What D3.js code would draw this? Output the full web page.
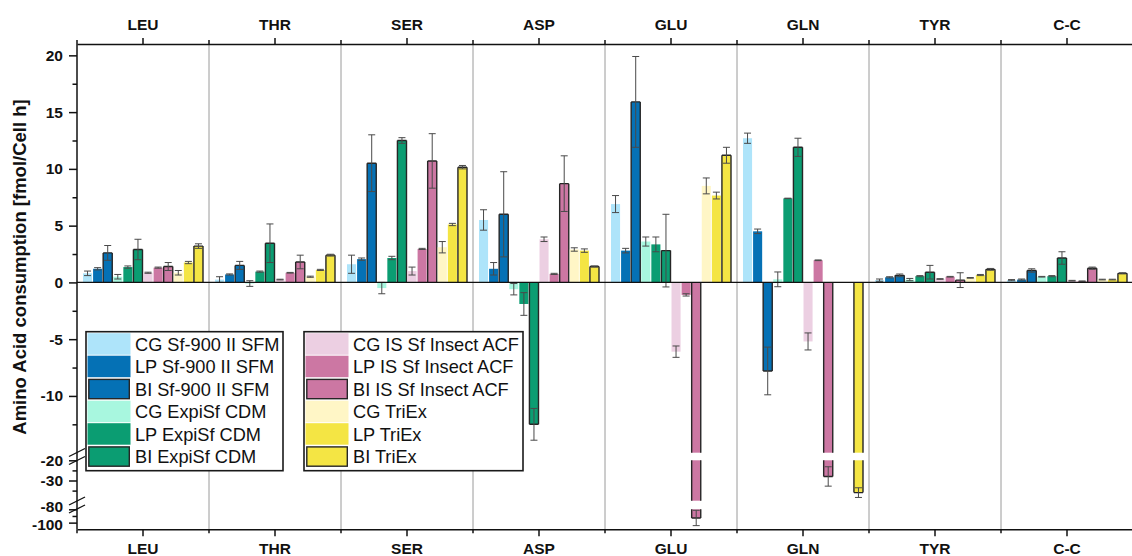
<!DOCTYPE html>
<html lang="en">
<head>
<meta charset="UTF-8">
<title>Amino Acid consumption</title>
<script src="https://d3js.org/d3.v7.min.js"></script>
<style>
  body { margin: 0; background: #fff; }
  svg { display: block; font-family: "Liberation Sans", Arial, sans-serif; }
</style>
</head>
<body>
<svg width="1132" height="556"></svg>
<script>
// categories and series
const categories = ["LEU", "THR", "SER", "ASP", "GLU", "GLN", "TYR", "C-C"];
const seriesNames = [
  "CG Sf-900 II SFM", "LP Sf-900 II SFM", "BI Sf-900 II SFM",
  "CG ExpiSf CDM", "LP ExpiSf CDM", "BI ExpiSf CDM",
  "CG IS Sf Insect ACF", "LP IS Sf Insect ACF", "BI IS Sf Insect ACF",
  "CG TriEx", "LP TriEx", "BI TriEx"
];

// mean values per series (LEU, THR, SER, ASP, GLU, GLN, TYR, C-C)
const cgSf   = [0.8, 0.25, 1.6, 5.5, 6.9, 12.7, 0.2, 0.2];
const lpSf   = [1.2, 0.7, 2.05, 1.2, 2.8, 4.5, 0.45, 0.25];
const biSf   = [2.6, 1.5, 10.5, 6.0, 15.9, -7.8, 0.62, 1.05];
const cgExpi = [0.5, -0.1, -0.5, -0.6, 3.6, 0.27, 0.25, 0.5];
const lpExpi = [1.35, 0.95, 2.15, -1.9, 3.35, 7.4, 0.55, 0.55];
const biExpi = [2.9, 3.45, 12.5, -12.5, 2.8, 11.9, 0.9, 2.15];
const cgIS   = [0.85, 0.25, 1.0, 3.8, -6.1, -5.2, 0.3, 0.15];
const lpIS   = [1.3, 0.85, 2.95, 0.75, -1.1, 1.95, 0.5, 0.1];
const biIS   = [1.4, 1.8, 10.7, 8.7, -93, -28, 0.2, 1.25];
const cgTri  = [0.85, 0.5, 3.1, 2.9, 8.5, 0, 0.4, 0.25];
const lpTri  = [1.75, 1.1, 5.1, 2.8, 7.65, 0, 0.65, 0.25];
const biTri  = [3.2, 2.4, 10.15, 1.4, 11.2, -36, 1.15, 0.8];

// standard deviations
const cgSfErr   = [0.2, 0.25, 0.8, 0.9, 0.75, 0.45, 0.1, 0.05];
const lpSfErr   = [0.1, 0.05, 0.1, 0.55, 0.2, 0.2, 0.05, 0.05];
const biSfErr   = [0.65, 0.35, 2.5, 3.75, 4.0, 2.1, 0.12, 0.15];
const cgExpiErr = [0.2, 0.25, 0.5, 0.5, 0.4, 0.65, 0.1, 0.03];
const lpExpiErr = [0.1, 0.05, 0.15, 1.0, 0.65, 0.02, 0.05, 0.05];
const biExpiErr = [0.9, 1.7, 0.25, 1.4, 3.2, 0.8, 0.6, 0.55];
const cgISErr   = [0.05, 0.03, 0.35, 0.2, 0.5, 0.75, 0.03, 0.03];
const lpISErr   = [0.05, 0.03, 0.05, 0.05, 0.1, 0.03, 0.03, 0.03];
const biISErr   = [0.35, 0.6, 2.4, 2.45, 11.5, 4.8, 0.65, 0.1];
const cgTriErr  = [0.2, 0.05, 0.5, 0.15, 0.7, 0, 0.03, 0.03];
const lpTriErr  = [0.1, 0.05, 0.1, 0.15, 0.3, 0, 0.05, 0.03];
const biTriErr  = [0.2, 0.08, 0.15, 0.05, 0.7, 2.4, 0.08, 0.05];

const seriesValues = [cgSf, lpSf, biSf, cgExpi, lpExpi, biExpi, cgIS, lpIS, biIS, cgTri, lpTri, biTri];
const seriesErrors = [cgSfErr, lpSfErr, biSfErr, cgExpiErr, lpExpiErr, biExpiErr,
                      cgISErr, lpISErr, biISErr, cgTriErr, lpTriErr, biTriErr];

// y-axis tick labels per segment
const ticksSeg1 = [-10, -5, 0, 5, 10, 15, 20];
const minorSeg1 = [-12.5, -7.5, -2.5, 2.5, 7.5, 12.5, 17.5];
const ticksSeg2 = [-20, -30];
const minorSeg2 = [-25, -35];
const ticksSeg3 = [-80, -100];
const minorSeg3 = [-90];

// styles
const colors = ["#aee4fa", "#0571b5", "#0571b5", "#a8f7df", "#0b9d72", "#0b9d72",
                "#eccfe2", "#cc77a3", "#cc77a3", "#fff6c6", "#f4e544", "#f4e544"];
const outlined = d => d % 3 === 2;

const svg = d3.select("svg");
const left = 77, catW = 132, right = left + catW * categories.length;
const plotTop = 44, plotBottom = 529.3;

// broken y axis: three linear pieces
const s1 = d3.scaleLinear().domain([21, -15]).range([plotTop, 452.7]);
const s2 = d3.scaleLinear().domain([-20, -40]).range([460.3, 500.7]);
const s3 = d3.scaleLinear().domain([-80, -110]).range([509.3, plotBottom]);

function yMap(v) {
  if (v >= -15) return s1(v);
  if (v > -20) return s1(-15);
  if (v >= -40) return s2(v);
  if (v > -80) return s2(-40);
  return s3(v);
}

function pieces(v) {
  if (v >= -15) return [[s1(0), s1(v), true]];
  const out = [[s1(0), s1(-15), false]];
  if (v >= -40) { out.push([s2(-20), s2(v), true]); return out; }
  out.push([s2(-20), s2(-40), false]);
  out.push([s3(-80), s3(v), true]);
  return out;
}

const x = d3.scaleBand().domain(categories).range([left, right]).padding(0);
const xi = d3.scaleBand().domain(d3.range(seriesNames.length)).range([6, catW - 6]).paddingInner(0.1);

// separators
svg.append("g").selectAll("line").data(categories.slice(1))
  .join("line")
  .attr("x1", d => x(d)).attr("x2", d => x(d))
  .attr("y1", plotTop).attr("y2", plotBottom)
  .attr("stroke", "#9a9a9a").attr("stroke-width", 1);

// bars
const barData = [];
seriesValues.forEach((vals, s) => {
  vals.forEach((v, c) => {
    barData.push({ s, c, v, e: seriesErrors[s][c] });
  });
});

const gBars = svg.append("g");
barData.forEach(d => {
  if (d.v === 0) return;
  const bx = x(categories[d.c]) + xi(d.s);
  const bw = xi.bandwidth();
  pieces(d.v).forEach(([ya, yb, isEnd]) => {
    const y0 = Math.min(ya, yb), h = Math.abs(yb - ya);
    gBars.append("rect")
      .attr("x", bx).attr("y", y0).attr("width", bw).attr("height", h)
      .attr("fill", colors[d.s]);
    if (outlined(d.s)) {
      let p = `M${bx},${ya}L${bx},${yb}M${bx + bw},${ya}L${bx + bw},${yb}`;
      if (isEnd) p += `M${bx},${yb}L${bx + bw},${yb}`;
      gBars.append("path").attr("d", p)
        .attr("fill", "none").attr("stroke", "#262626").attr("stroke-width", 1.4);
    }
  });
});

// error bars
const gErr = svg.append("g").attr("stroke", "#4a4a4a").attr("stroke-width", 1).attr("fill", "none");
barData.forEach(d => {
  if (d.v === 0 && d.e === 0) return;
  const cx = x(categories[d.c]) + xi(d.s) + xi.bandwidth() / 2;
  const yHi = yMap(d.v + d.e), yLo = yMap(d.v - d.e);
  gErr.append("path")
    .attr("d", `M${cx},${yHi}L${cx},${yLo}M${cx - 3.5},${yHi}L${cx + 3.5},${yHi}M${cx - 3.5},${yLo}L${cx + 3.5},${yLo}`);
});

// zero line
svg.append("line")
  .attr("x1", left).attr("x2", right).attr("y1", s1(0)).attr("y2", s1(0))
  .attr("stroke", "#111").attr("stroke-width", 1.2);

// top and bottom axes
const topAxis = svg.append("g").attr("transform", `translate(0,${plotTop})`)
  .call(d3.axisTop(x).tickSize(6).tickPadding(8.5).tickSizeOuter(0));
const botAxis = svg.append("g").attr("transform", `translate(0,${plotBottom})`)
  .call(d3.axisBottom(x).tickSize(7).tickPadding(6.5).tickSizeOuter(0));
[topAxis, botAxis].forEach(g => {
  g.select(".domain").attr("stroke", "#111").attr("stroke-width", 1.5);
  g.selectAll(".tick line").attr("stroke", "#111").attr("stroke-width", 1.5);
  g.selectAll("text").attr("font-size", 15.5).attr("font-weight", "bold").attr("fill", "#111")
    .attr("font-family", "Liberation Sans, Arial, sans-serif");
});
svg.append("g").selectAll("line").data(categories)
  .join("line")
  .attr("x1", d => x(d)).attr("x2", d => x(d))
  .attr("y1", plotTop - 4).attr("y2", plotTop)
  .attr("stroke", "#111").attr("stroke-width", 1.5);
svg.append("g").selectAll("line").data(categories)
  .join("line")
  .attr("x1", d => x(d)).attr("x2", d => x(d))
  .attr("y1", plotBottom).attr("y2", plotBottom + 4)
  .attr("stroke", "#111").attr("stroke-width", 1.5);

// left broken axis
function leftAxis(scale, major, minor, nudge) {
  const g = svg.append("g").attr("transform", `translate(${left},0)`);
  g.call(d3.axisLeft(scale).tickValues(major).tickSize(8).tickPadding(6).tickFormat(d => String(d)));
  g.select(".domain").remove();
  g.selectAll(".tick line").attr("stroke", "#111").attr("stroke-width", 1.5);
  g.selectAll("text").attr("font-size", 15.5).attr("font-weight", "bold").attr("fill", "#111")
    .attr("font-family", "Liberation Sans, Arial, sans-serif")
    .attr("y", d => (nudge && nudge[d]) || 0);
  const gm = svg.append("g").attr("transform", `translate(${left},0)`);
  gm.call(d3.axisLeft(scale).tickValues(minor).tickSize(4.5).tickFormat(""));
  gm.select(".domain").remove();
  gm.selectAll(".tick line").attr("stroke", "#111").attr("stroke-width", 1.5);
}
leftAxis(s1, ticksSeg1, minorSeg1);
leftAxis(s2, ticksSeg2, minorSeg2);
leftAxis(s3, ticksSeg3, minorSeg3, { "-80": -2.5, "-100": 1.5 });

svg.append("line")
  .attr("x1", left).attr("x2", left).attr("y1", plotTop).attr("y2", plotBottom)
  .attr("stroke", "#111").attr("stroke-width", 1.5);

// break marks on the axis
[(s1(-15) + s2(-20)) / 2, (s2(-40) + s3(-80)) / 2].forEach(yc => {
  [-4, 4].forEach(off => {
    svg.append("line")
      .attr("x1", left - 8).attr("y1", yc + off + 4)
      .attr("x2", left + 8).attr("y2", yc + off - 4)
      .attr("stroke", "#111").attr("stroke-width", 1.3);
  });
});

// y title
svg.append("text")
  .attr("transform", "translate(25.5,267) rotate(-90)")
  .attr("text-anchor", "middle")
  .attr("font-size", 18.5).attr("font-weight", "bold").attr("fill", "#111")
  .text("Amino Acid consumption [fmol/Cell h]");

// legends
function legend(x0, width, idx) {
  const y0 = 331.7, rowH = 22.5;
  const g = svg.append("g");
  g.append("rect").attr("x", x0).attr("y", y0).attr("width", width).attr("height", 139)
    .attr("fill", "#fff").attr("stroke", "#1a1a1a").attr("stroke-width", 1.6);
  idx.forEach((s, i) => {
    const ry = y0 + 1.5 + i * rowH;
    if (outlined(s)) {
      g.append("rect").attr("x", x0 + 2.8).attr("y", ry + 1.2).attr("width", 40.5).attr("height", rowH - 3.2)
        .attr("fill", colors[s]).attr("stroke", "#262626").attr("stroke-width", 1.4);
    } else {
      g.append("rect").attr("x", x0 + 1.5).attr("y", ry).attr("width", 43).attr("height", rowH - 1)
        .attr("fill", colors[s]);
    }
    g.append("text").attr("x", x0 + 49).attr("y", ry + rowH / 2).attr("dy", "0.35em")
      .attr("font-size", 18.2).attr("fill", "#111")
      .text(seriesNames[s]);
  });
}
legend(86, 197, [0, 1, 2, 3, 4, 5]);
legend(304, 219, [6, 7, 8, 9, 10, 11]);
</script>
</body>
</html>
